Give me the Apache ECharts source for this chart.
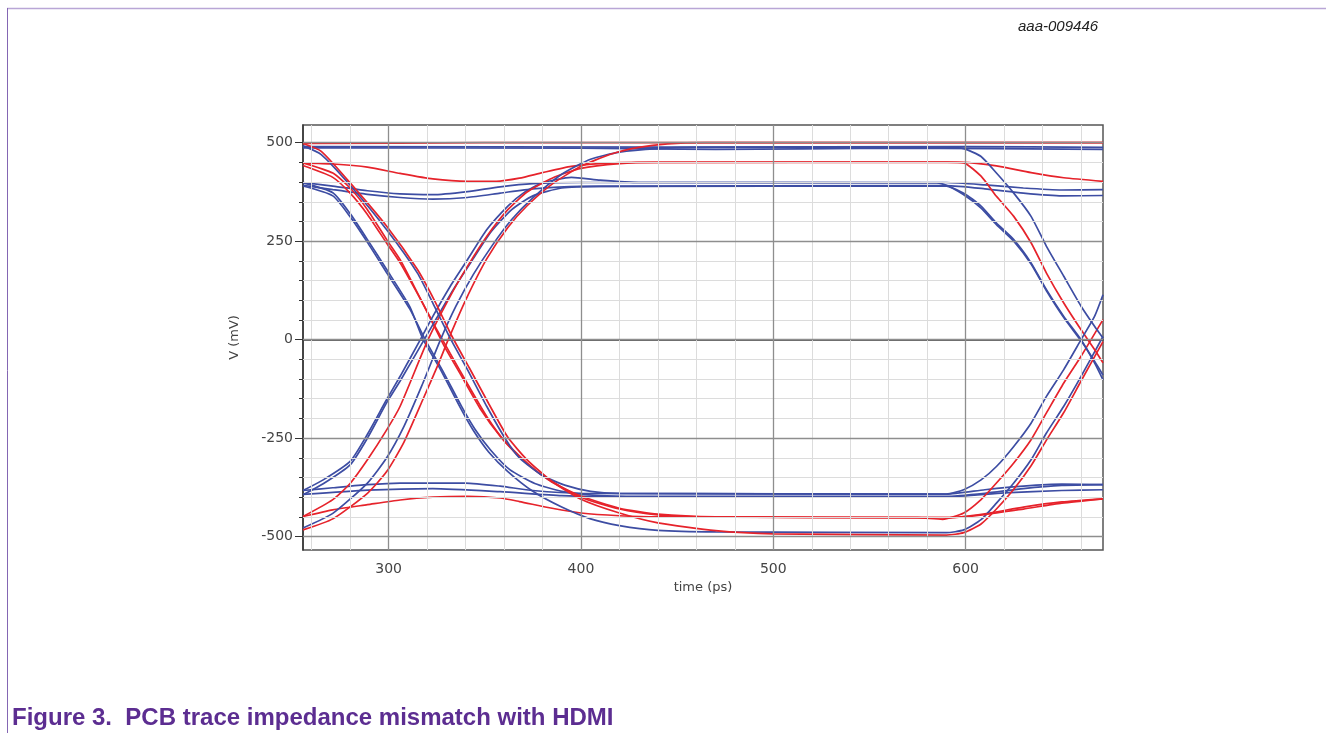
<!DOCTYPE html>
<html>
<head>
<meta charset="utf-8">
<script src="https://cdn.jsdelivr.net/npm/echarts@6/dist/echarts.min.js"></script>
<style>
  html, body { margin: 0; padding: 0; background: #fff; }
  #main { width: 1326px; height: 733px; }
</style>
</head>
<body>
<div id="main"></div>
<script>
// axis ticks
var xMajor = [300, 400, 500, 600];
var xMinor = [260, 280, 300, 320, 340, 360, 380, 400, 420, 440, 460, 480, 500, 520, 540, 560, 580, 600, 620, 640, 660];
var yMajor = [-500, -250, 0, 250, 500];
var yMinor = [-500, -450, -400, -350, -300, -250, -200, -150, -100, -50, 0, 50, 100, 150, 200, 250, 300, 350, 400, 450, 500];

// eye diagram traces, [time ps, V mV]
var redTop = [[255.5, 498], [350, 500], [671.4, 500]];
var blueTop = [[255.5, 490], [450, 489], [600, 490], [671.4, 488]];
var blueTop2 = [[255.5, 487], [400, 486], [470, 483], [560, 486], [671.4, 483]];

var blueA = [[255.5, 492], [265, 470], [280, 392], [299, 279], [315, 169], [323, 93], [332, 4], [341, -76], [351, -169], [361, -254], [368, -300], [380, -345], [392, -370], [405, -385], [420, -390], [590, -392], [599, -381], [608, -356], [616, -322], [625, -271], [634, -212], [642, -144], [651, -76], [660, 0], [667, 59], [671.4, 114]];
var redB = [[255.5, 498], [265, 478], [280, 398], [299, 288], [315, 178], [324, 98], [333, 8], [342, -72], [352, -162], [362, -248], [372, -305], [385, -360], [400, -405], [420, -440], [440, -465], [470, -485], [500, -493], [590, -496], [599, -490], [608, -468], [616, -430], [625, -380], [634, -320], [642, -255], [651, -185], [660, -105], [671.4, -5]];
var blueC = [[255.5, 398], [271, 373], [280, 320], [289, 254], [299, 178], [311, 84], [318, 0], [327, -76], [337, -170], [344, -230], [352, -285], [362, -335], [375, -385], [390, -425], [405, -455], [420, -472], [440, -484], [470, -488], [590, -490], [599, -483], [608, -457], [616, -415], [625, -364], [634, -305], [642, -237], [651, -169], [660, -93], [671.4, 8]];
var blueC2 = [[255.5, 390], [271, 365], [280, 312], [289, 247], [299, 170], [311, 78], [319, 0], [328, -78], [338, -170], [345, -228], [353, -280], [363, -330], [376, -365], [390, -385], [410, -396], [430, -398], [590, -398], [610, -390], [630, -378], [650, -370], [671.4, -368]];
var redD = [[255.5, 449], [271, 423], [280, 385], [289, 330], [299, 254], [306, 203], [315, 119], [322, 51], [329, -17], [338, -93], [348, -178], [358, -245], [368, -295], [380, -345], [400, -400], [420, -430], [440, -445], [460, -450], [575, -452], [588, -456], [599, -440], [608, -406], [616, -364], [625, -313], [634, -254], [642, -186], [651, -110], [660, -42], [671.4, 51]];
var redD2 = [[255.5, 442], [271, 412], [280, 372], [289, 318], [299, 245], [306, 195], [316, 108], [324, 35], [332, -35], [341, -112], [351, -195], [361, -262], [372, -315], [385, -362], [400, -397], [420, -428], [440, -443], [470, -450], [590, -452], [610, -444], [630, -430], [650, -415], [671.4, -404]];

var blueE = [[255.5, -383], [266, -356], [280, -309], [289, -240], [299, -152], [306, -93], [316.5, 0], [323, 59], [332, 135], [341, 203], [351, 279], [362, 339], [370, 372], [380, 398], [395, 412], [410, 405], [430, 399], [585, 398], [599, 372], [608, 339], [616, 296], [625, 254], [634, 195], [642, 127], [651, 59], [660, 0], [667, -59], [671.4, -102]];
var blueE2 = [[255.5, -394], [266, -366], [280, -318], [289, -250], [299, -160], [306, -105], [318.5, 0], [325, 55], [334, 130], [343, 198], [353, 272], [364, 330], [375, 365], [390, 385], [410, 389], [590, 390], [599, 368], [608, 334], [616, 292], [625, 250], [634, 192], [642, 124], [651, 56], [661, -10], [667, -55], [671.4, -90]];
var redF = [[255.5, -449], [271, -406], [280, -365], [289, -305], [299, -229], [306, -169], [320.5, 0], [332, 110], [341, 186], [351, 262], [362, 330], [372, 375], [385, 410], [400, 435], [420, 447], [440, 450], [590, 451], [599, 449], [608, 415], [616, 364], [625, 313], [634, 246], [642, 169], [651, 93], [660, 25], [667, -25], [671.4, -59]];
var blueG = [[255.5, -478], [271, -441], [289, -364], [299, -300], [308, -220], [317, -120], [327, 0], [335, 85], [344, 165], [354, 240], [364, 305], [375, 360], [390, 420], [405, 458], [420, 476], [440, 485], [460, 488], [590, 489], [599, 485], [608, 465], [616, 423], [625, 372], [634, 313], [642, 237], [651, 161], [660, 85], [667, 34], [671.4, 4]];
var redH = [[255.5, -483], [271, -455], [289, -390], [299, -335], [308, -260], [318, -150], [326, -60], [331, 0], [340, 100], [351, 205], [362, 285], [372, 340], [385, 395], [400, 440], [415, 470], [430, 488], [445, 497], [465, 500], [671.4, 500]];

var redS1 = [[255.5, 449], [271, 446], [289, 438], [306, 422], [323, 408], [341, 402], [356, 402], [368, 410], [380, 424], [395, 440], [410, 447], [430, 450], [599, 450], [616, 441], [634, 424], [651, 411], [671.4, 402]];
var blueS2 = [[255.5, 399], [271, 390], [289, 378], [306, 370], [323, 368], [341, 376], [358, 388], [375, 396], [400, 399], [590, 399], [610, 393], [630, 385], [650, 380], [671.4, 381]];
var blueS3 = [[255.5, 392], [271, 381], [289, 369], [306, 361], [323, 357], [341, 361], [358, 372], [375, 383], [400, 389], [590, 391], [610, 383], [630, 372], [650, 365], [671.4, 366]];
var blueS4 = [[255.5, -383], [271, -376], [289, -368], [306, -364], [340, -364], [358, -372], [375, -383], [400, -390], [590, -392], [610, -381], [630, -372], [650, -367], [671.4, -368]];
var blueS5 = [[255.5, -393], [289, -382], [323, -378], [358, -386], [390, -396], [420, -399], [590, -399], [620, -389], [650, -383], [671.4, -381]];
var redS6 = [[255.5, -449], [271, -432], [289, -419], [306, -407], [323, -400], [341, -398], [358, -402], [368, -411], [385, -428], [400, -440], [420, -447], [440, -450], [590, -452], [610, -442], [630, -425], [650, -412], [671.4, -404]];

var BLUE = '#3d4da3';
var RED = '#e6232b';

var traces = [
  [blueTop, BLUE], [blueTop2, BLUE], [redTop, RED],
  [blueS2, BLUE], [blueS3, BLUE], [redS1, RED],
  [blueS4, BLUE], [blueS5, BLUE], [redS6, RED],
  [blueC, BLUE], [blueC2, BLUE], [redD, RED], [redD2, RED],
  [blueE, BLUE], [blueE2, BLUE], [redF, RED],
  [blueG, BLUE], [redH, RED],
  [blueA, BLUE], [redB, RED]
];

var chart = echarts.init(document.getElementById('main'));

var gridLines = [];
xMinor.forEach(function (v) {
  if (xMajor.indexOf(v) < 0) gridLines.push({ xAxis: v, lineStyle: { color: '#dcdcdc', width: 1, type: 'solid' } });
});
yMinor.forEach(function (v) {
  if (yMajor.indexOf(v) < 0) gridLines.push({ yAxis: v, lineStyle: { color: '#dcdcdc', width: 1, type: 'solid' } });
});
xMajor.forEach(function (v) {
  gridLines.push({ xAxis: v, lineStyle: { color: '#8e8e8e', width: 1.3, type: 'solid' } });
});
yMajor.forEach(function (v) {
  gridLines.push({ yAxis: v, lineStyle: { color: '#8e8e8e', width: 1.3, type: 'solid' } });
});

var series = [{
  type: 'line',
  data: [[255.5, 0]],
  showSymbol: false,
  lineStyle: { opacity: 0 },
  z: 1,
  silent: true,
  markLine: { symbol: 'none', silent: true, animation: false, label: { show: false }, data: gridLines }
}];

traces.forEach(function (t) {
  series.push({
    type: 'line',
    data: t[0],
    showSymbol: false,
    smooth: 0.2,
    z: 3,
    lineStyle: { color: t[1], width: 1.7 }
  });
});

var labelFont = { color: '#444', fontSize: 14, fontFamily: 'DejaVu Sans' };

chart.setOption({
  animation: false,
  backgroundColor: '#fff',
  grid: {
    left: 303, top: 125, right: 223, bottom: 183,
    show: true, borderColor: '#555', borderWidth: 1.5, backgroundColor: '#fff',
    outerBoundsMode: 'none'
  },
  xAxis: [{
    type: 'value', min: 255.5, max: 671.4, position: 'bottom',
    axisLine: { show: true, lineStyle: { color: '#333', width: 1.5 } },
    axisTick: { show: true, customValues: xMajor, length: 8, lineStyle: { color: '#333' } },
    axisLabel: Object.assign({ customValues: xMajor, margin: 12 }, labelFont),
    splitLine: { show: false },
    name: 'time (ps)', nameLocation: 'middle', nameGap: 29,
    nameTextStyle: { color: '#444', fontSize: 13, fontFamily: 'DejaVu Sans' }
  }, {
    type: 'value', min: 255.5, max: 671.4, position: 'bottom',
    axisLine: { show: false },
    axisTick: { show: true, customValues: xMinor, length: 4, lineStyle: { color: '#333' } },
    axisLabel: { show: false },
    splitLine: { show: false }
  }],
  yAxis: [{
    type: 'value', min: -534, max: 545, position: 'left',
    axisLine: { show: true, lineStyle: { color: '#333', width: 1.5 } },
    axisTick: { show: true, customValues: yMajor, length: 8, lineStyle: { color: '#333' } },
    axisLabel: Object.assign({ customValues: yMajor, margin: 10 }, labelFont),
    splitLine: { show: false },
    name: 'V (mV)', nameLocation: 'middle', nameGap: 62,
    nameTextStyle: { color: '#444', fontSize: 13, fontFamily: 'DejaVu Sans' }
  }, {
    type: 'value', min: -534, max: 545, position: 'left',
    axisLine: { show: false },
    axisTick: { show: true, customValues: yMinor, length: 4, lineStyle: { color: '#333' } },
    axisLabel: { show: false },
    splitLine: { show: false }
  }],
  series: series,
  graphic: [
    { type: 'line', shape: { x1: 7, y1: 8.5, x2: 1326, y2: 8.5 }, style: { stroke: '#b9a6d6', lineWidth: 1.5 } },
    { type: 'line', shape: { x1: 7.5, y1: 8, x2: 7.5, y2: 733 }, style: { stroke: '#8466b3', lineWidth: 1 } },
    { type: 'text', left: 1018, top: 19, style: { text: 'aaa-009446', font: 'italic 15px "Liberation Sans", Arial, sans-serif', fill: '#222' } },
    { type: 'text', left: 12, top: 706, style: { text: 'Figure 3.  PCB trace impedance mismatch with HDMI', font: 'bold 24px "Liberation Sans", Arial, sans-serif', fill: '#5c2d91' } }
  ]
});
</script>
</body>
</html>
